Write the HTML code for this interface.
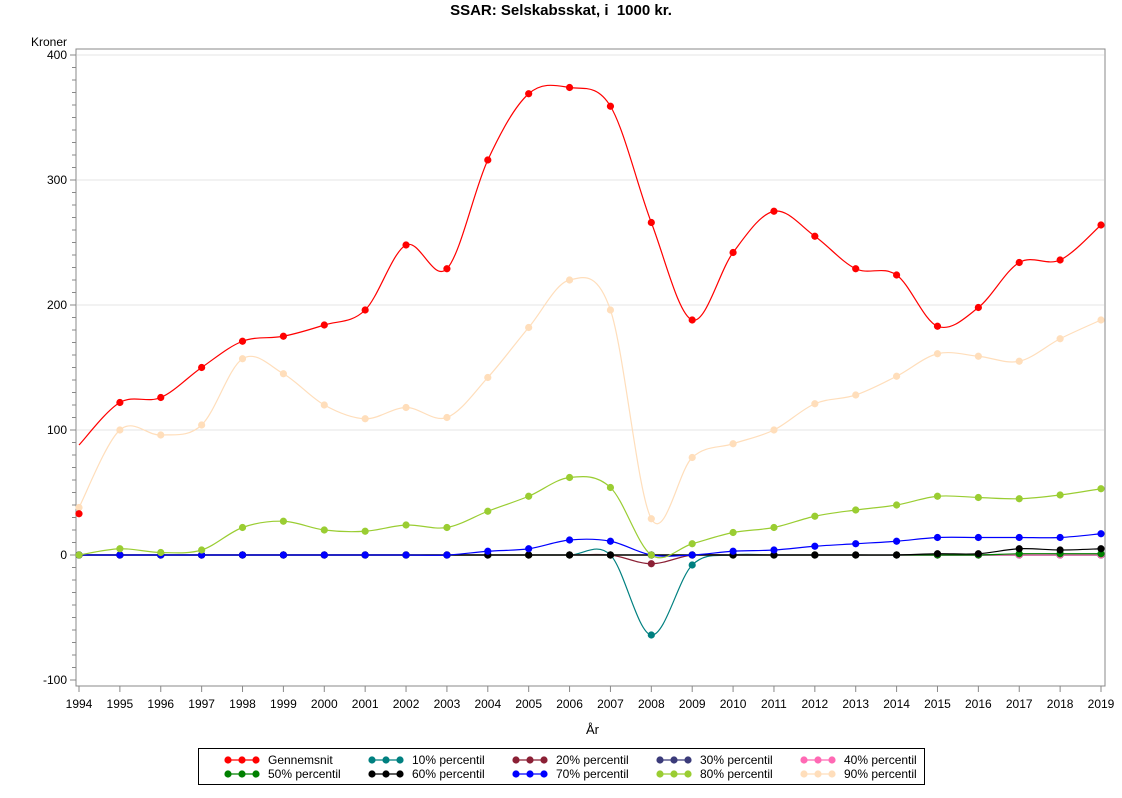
<!DOCTYPE html>
<html><head><meta charset="utf-8"><style>
body{margin:0;background:#fff;width:1122px;height:793px;overflow:hidden;font-family:"Liberation Sans",sans-serif}
</style></head><body>
<svg id="s" width="1122" height="793" xmlns="http://www.w3.org/2000/svg" font-family="Liberation Sans, sans-serif">
<text x="561" y="15" text-anchor="middle" font-size="15" font-weight="bold">SSAR: Selskabsskat, i &#160;1000 kr.</text>
<text x="31" y="46" font-size="12">Kroner</text>
<text x="586" y="734" font-size="13">År</text>
<g id="grid"></g>
<rect x="76" y="49" width="1029" height="637" fill="none" stroke="#888"/>
<g id="series"></g>
<rect x="198.5" y="748.5" width="726" height="36" fill="none" stroke="#000"/>
<g id="leg" font-size="12"></g>
</svg>
<script>
const NS="http://www.w3.org/2000/svg";
function el(t,a,p,txt){const e=document.createElementNS(NS,t);for(const k in a)e.setAttribute(k,a[k]);if(txt!=null)e.textContent=txt;p.appendChild(e);return e;}
const X=i=>79+i*40.88, Y=v=>555-v*1.25;
const g=document.getElementById('grid');
[400,300,200,100,0,-100].forEach(v=>{
 if(v!==-100)el('line',{x1:77,x2:1104,y1:Y(v),y2:Y(v),stroke:'#e4e4e4'},g);
 el('text',{x:67,y:Y(v)+4,'text-anchor':'end','font-size':12},g,v);
});
for(let v=-100;v<=400;v+=10){el('line',{x1:v%100==0?70:72,x2:76,y1:Y(v),y2:Y(v),stroke:'#888'},g);}
for(let i=0;i<26;i++){el('line',{x1:X(i),x2:X(i),y1:686,y2:692,stroke:'#888'},g);
 el('text',{x:X(i),y:708,'text-anchor':'middle','font-size':12},g,1994+i);}
const z=n=>Array(n).fill(0);
const S=[
['10% percentil','#008080',[...z(14),-64,-8,...z(10)]],
['20% percentil','#8B2035',[...z(14),-7,...z(11)]],
['30% percentil','#3B3B7A',z(26)],
['40% percentil','#FF69B4',z(26)],
['50% percentil','#008000',[...z(23),1,1,1]],
['60% percentil','#000',[...z(21),1,1,5,4,5]],
['70% percentil','#0000FF',[...z(10),3,5,12,11,0,0,3,4,7,9,11,14,14,14,14,17]],
['80% percentil','#9ACD32',[0,5,2,4,22,27,20,19,24,22,35,47,62,54,0,9,18,22,31,36,40,47,46,45,48,53]],
['90% percentil','#FFDEBB',[38,100,96,104,157,145,120,109,118,110,142,182,220,196,29,78,89,100,121,128,143,161,159,155,173,188]],
['Gennemsnit','#FF0000',[33,122,126,150,171,175,184,196,248,229,316,369,374,359,266,188,242,275,255,229,224,183,198,234,236,264],88]
];
const sg=document.getElementById('series');
S.forEach(([n,c,d,start])=>{
 const p=d.map((v,i)=>[X(i),Y(v)]);
 const lp=p.map(q=>q.slice());
 if(start!=null)lp[0][1]=Y(start);
 let s=`M${lp[0][0]},${lp[0][1]}`;
 for(let i=0;i<lp.length-1;i++){const p0=lp[i-1]||lp[i],p1=lp[i],p2=lp[i+1],p3=lp[i+2]||p2;
  s+=`C${p1[0]+(p2[0]-p0[0])/6},${p1[1]+(p2[1]-p0[1])/6} ${p2[0]-(p3[0]-p1[0])/6},${p2[1]-(p3[1]-p1[1])/6} ${p2[0]},${p2[1]}`;}
 el('path',{d:s,fill:'none',stroke:c,'stroke-width':1.2},sg);
 p.forEach(q=>el('circle',{cx:q[0],cy:q[1],r:3.6,fill:c},sg));
});
const L=document.getElementById('leg');
const order=['Gennemsnit','10% percentil','20% percentil','30% percentil','40% percentil','50% percentil','60% percentil','70% percentil','80% percentil','90% percentil'];
order.forEach((n,k)=>{const c=S.find(s=>s[0]===n)[1];const col=k%5,row=Math.floor(k/5);
 const x0=228+col*144,y0=760+row*14;
 el('line',{x1:x0,x2:x0+28,y1:y0,y2:y0,stroke:c,'stroke-width':1.2},L);
 [0,14,28].forEach(dx=>el('circle',{cx:x0+dx,cy:y0,r:3.6,fill:c},L));
 el('text',{x:x0+40,y:y0+4},L,n);});
</script>
</body></html>
